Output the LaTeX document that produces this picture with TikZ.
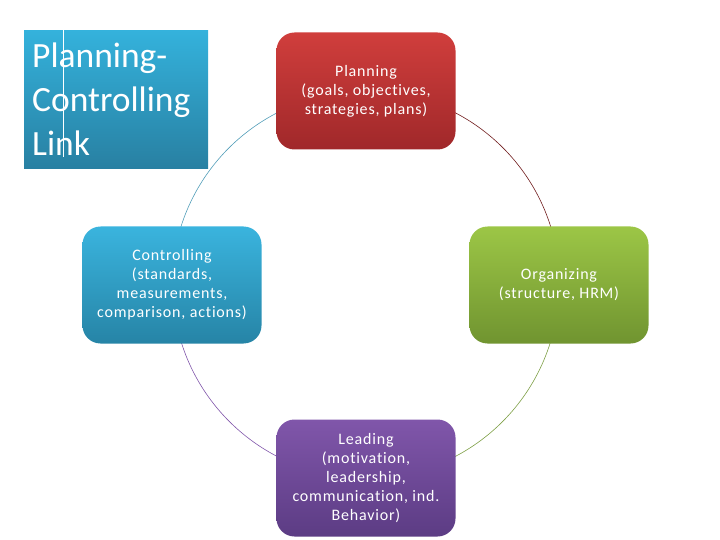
\documentclass[tikz,border=0pt]{standalone}
\usepackage{fontspec}
\setmainfont{Carlito}[Ligatures=NoCommon]
\newfontfamily\boxfont{Carlito}[LetterSpace=5, Ligatures=NoCommon]
\usepackage{xcolor}
\usetikzlibrary{positioning,calc,backgrounds}
\definecolor{planred}{RGB}{208,62,60}
\definecolor{planreddark}{RGB}{160,40,42}
\definecolor{orggreen}{RGB}{156,198,70}
\definecolor{orggreendark}{RGB}{112,148,48}
\definecolor{leadpurple}{RGB}{128,86,170}
\definecolor{leadpurpledark}{RGB}{92,60,132}
\definecolor{ctrlblue}{RGB}{58,180,222}
\definecolor{ctrlbluedark}{RGB}{38,132,166}
\definecolor{titleblue}{RGB}{52,178,220}
\definecolor{titlebluedark}{RGB}{40,128,162}

\begin{document}
\begin{tikzpicture}[
            x=1pt, y=-1pt,
            every node/.style={font=\boxfont\fontsize{16}{19}\selectfont, text=white},
            box/.style={rounded corners=18pt, minimum width=179pt, minimum height=117pt, align=center, inner sep=4pt},
            link/.style={line width=0.6pt},
        ]
            \useasboundingbox (0,0) rectangle (720,540);

            \node[box, top color=planred, bottom color=planreddark] (plan) at (366,91) {Planning\\(goals, objectives,\\strategies, plans)};
            \node[box, top color=orggreen, bottom color=orggreendark] (org) at (559,285) {Organizing\\(structure, HRM)};
            \node[box, top color=leadpurple, bottom color=leadpurpledark] (lead) at (366,478) {Leading\\(motivation,\\leadership,\\communication, ind.\\Behavior)};
            \node[box, top color=ctrlblue, bottom color=ctrlbluedark] (ctrl) at (172,285) {Controlling\\(standards,\\measurements,\\comparison, actions)};

            \node[anchor=north west, minimum width=184pt, minimum height=138pt, inner xsep=8pt, align=left,
                  top color=titleblue, bottom color=titlebluedark,
                  font=\rmfamily\fontsize{35.5}{44}\selectfont, text width=168pt] (title) at (24,30) {Planning-\\Controlling\\Link};
            \draw[white, line width=0.8pt] ($(title.north west)+(39,-4)$) -- ($(title.south west)+(39,-11)$);

            \begin{scope}[on background layer]
                \draw[link, ctrlbluedark!80] (ctrl.center) arc[start angle=180, end angle=90, radius=193.5pt];
                \draw[link, planreddark!70!black] (plan.center) arc[start angle=90, end angle=0, radius=193.5pt];
                \draw[link, orggreendark!90] (org.center) arc[start angle=0, end angle=-90, radius=193.5pt];
                \draw[link, leadpurple] (lead.center) arc[start angle=-90, end angle=-180, radius=193.5pt];
            \end{scope}
        \end{tikzpicture}
\end{document}
